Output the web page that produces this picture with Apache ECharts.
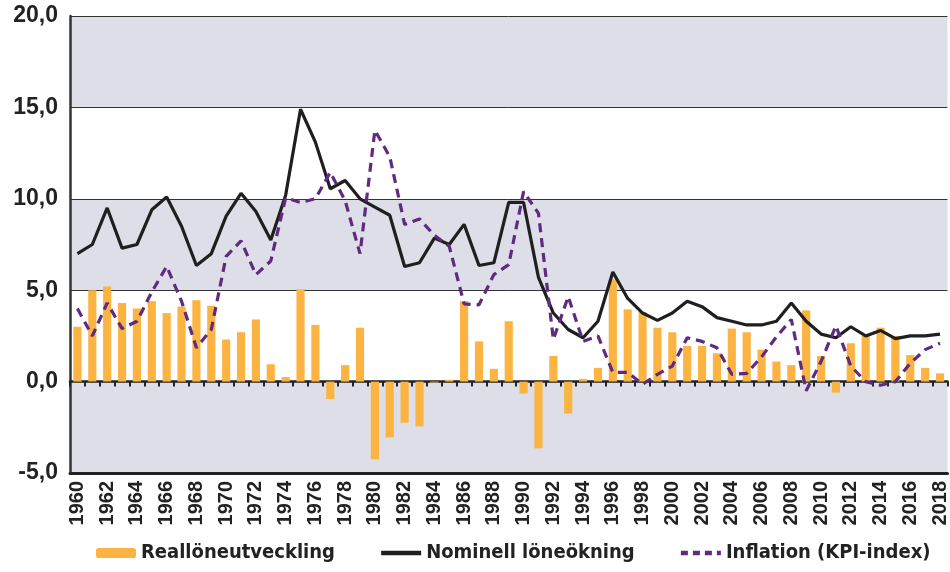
<!DOCTYPE html>
<html>
<head>
<meta charset="utf-8">
<script src="https://cdn.jsdelivr.net/npm/echarts@6/dist/echarts.min.js"></script>
<style>
  html, body { margin: 0; padding: 0; background: #fff; }
  #chart { width: 950px; height: 572px; }
</style>
</head>
<body>
<div id="chart"></div>
<script>
const years = []
for (let y = 1960; y <= 2018; y++) years.push(String(y))

const reallon = [
  3.0, 5.0, 5.2, 4.3, 4.0, 4.4, 3.75, 4.1, 4.45, 4.15,
  2.3, 2.7, 3.4, 0.95, 0.25, 5.05, 3.1, -0.95, 0.9, 2.95,
  -4.25, -3.05, -2.25, -2.45, -0.05, 0.1, 4.4, 2.2, 0.7, 3.3,
  -0.65, -3.65, 1.4, -1.75, 0.15, 0.75, 5.6, 3.95, 3.8, 2.95,
  2.7, 1.95, 1.95, 1.55, 2.9, 2.7, 1.75, 1.1, 0.9, 3.9,
  1.4, -0.6, 2.1, 2.5, 2.95, 2.5, 1.45, 0.75, 0.45
]

const nominell = [
  7.0, 7.5, 9.5, 7.3, 7.5, 9.4, 10.1, 8.5, 6.35, 7.0,
  9.05, 10.3, 9.3, 7.75, 10.2, 14.9, 13.1, 10.55, 11.0, 10.0,
  9.55, 9.1, 6.3, 6.5, 7.85, 7.5, 8.6, 6.35, 6.5, 9.8,
  9.8, 5.7, 3.75, 2.85, 2.4, 3.3, 6.0, 4.55, 3.75, 3.35,
  3.75, 4.4, 4.1, 3.5, 3.3, 3.1, 3.1, 3.3, 4.3, 3.3,
  2.6, 2.4, 3.0, 2.5, 2.8, 2.35, 2.5, 2.5, 2.6
]

const inflation = [
  4.0, 2.5, 4.3, 2.9, 3.3, 4.9, 6.3, 4.4, 1.85, 2.85,
  6.85, 7.7, 5.85, 6.6, 10.05, 9.8, 10.0, 11.45, 9.9, 7.0,
  13.75, 12.3, 8.6, 8.9, 8.0, 7.4, 4.25, 4.2, 5.85, 6.4,
  10.4, 9.2, 2.3, 4.65, 2.2, 2.5, 0.5, 0.5, -0.15, 0.4,
  0.85, 2.4, 2.2, 1.85, 0.4, 0.45, 1.35, 2.45, 3.4, -0.5,
  1.1, 3.05, 0.85, 0.0, -0.2, 0.0, 1.0, 1.75, 2.1
]

const seriesNames = ['Reallöneutveckling', 'Nominell löneökning', 'Inflation (KPI-index)']

const chart = echarts.init(document.getElementById('chart'), null, { renderer: 'canvas' })

const labelFont = 'Liberation Sans, Arial, sans-serif'

const option = {
  animation: false,
  backgroundColor: '#fff',
  grid: { left: 70, right: 0, top: 16, bottom: 99, containLabel: false },
  legend: {
    data: [
      { name: seriesNames[0] },
      { name: seriesNames[1], itemStyle: { opacity: 0 }, lineStyle: { width: 4.5 } },
      { name: seriesNames[2], itemStyle: { opacity: 0 }, lineStyle: { width: 4.5, type: [7, 5] } }
    ],
    left: 91,
    bottom: 4,
    itemWidth: 40,
    itemHeight: 10,
    itemGap: 44,
    textStyle: {
      fontFamily: 'DejaVu Sans Condensed, Liberation Sans Narrow, sans-serif',
      fontWeight: 'bold',
      fontSize: 20,
      color: '#222'
    }
  },
  xAxis: [
    {
      type: 'category',
      data: years,
      axisLine: { onZero: true, lineStyle: { color: '#222', width: 2.5 } },
      axisTick: { show: true, interval: 0, length: 5, lineStyle: { color: '#222', width: 2 } },
      axisLabel: { show: false }
    },
    {
      type: 'category',
      data: years,
      position: 'bottom',
      axisLine: { onZero: false, lineStyle: { color: '#222', width: 3 } },
      axisTick: { show: false },
      axisLabel: {
        interval: 1,
        rotate: 90,
        margin: 8,
        fontFamily: labelFont,
        fontWeight: 'bold',
        fontSize: 20,
        color: '#222'
      }
    }
  ],
  yAxis: {
    type: 'value',
    min: -5,
    max: 20,
    interval: 5,
    axisLine: { show: true, lineStyle: { color: '#333', width: 2.5 } },
    axisTick: { show: false },
    axisLabel: {
      margin: 12,
      fontFamily: labelFont,
      fontWeight: 'bold',
      fontSize: 23,
      color: '#222',
      formatter: v => v.toFixed(1).replace('.', ',')
    },
    splitLine: { show: true, lineStyle: { color: '#333', width: 1 } },
    splitArea: { show: true, areaStyle: { color: ['#dedee8', '#ffffff'] } }
  },
  series: [
    {
      name: seriesNames[0],
      type: 'bar',
      data: reallon,
      barWidth: '55%',
      itemStyle: { color: '#fbb442' }
    },
    {
      name: seriesNames[1],
      type: 'line',
      data: nominell,
      symbol: 'none',
      lineStyle: { color: '#1f1f1f', width: 3.2 },
      itemStyle: { color: '#1f1f1f' }
    },
    {
      name: seriesNames[2],
      type: 'line',
      data: inflation,
      symbol: 'none',
      lineStyle: { color: '#5f2a7f', width: 3.2, type: [9, 6] },
      itemStyle: { color: '#5f2a7f' }
    }
  ]
}

chart.setOption(option)
window.addEventListener('resize', chart.resize)
</script>
</body>
</html>
